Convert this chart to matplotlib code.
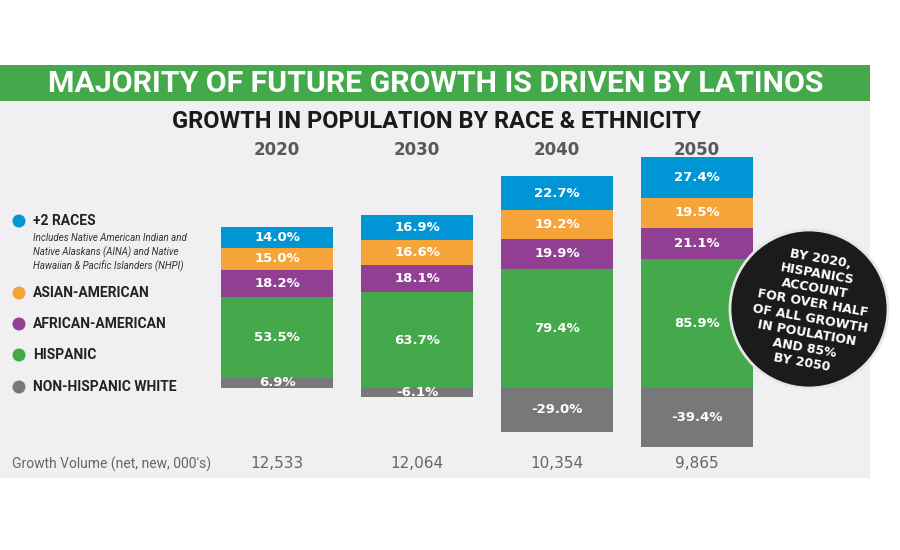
import matplotlib
matplotlib.use("Agg")
import matplotlib.pyplot as plt
from matplotlib.patches import Rectangle, Circle

years = ["2020", "2030", "2040", "2050"]
volumes = ["12,533", "12,064", "10,354", "9,865"]

white_nh = [6.9, -6.1, -29.0, -39.4]
hispanic = [53.5, 63.7, 79.4, 85.9]
african = [18.2, 18.1, 19.9, 21.1]
asian = [15.0, 16.6, 19.2, 19.5]
two_races = [14.0, 16.9, 22.7, 27.4]

legend_labels = ["+2 RACES", "ASIAN-AMERICAN", "AFRICAN-AMERICAN", "HISPANIC", "NON-HISPANIC WHITE"]
note = ("Includes Native American Indian and\n"
        "Native Alaskans (AINA) and Native\n"
        "Hawaiian & Pacific Islanders (NHPI)")
badge = "BY 2020,\nHISPANICS\nACCOUNT\nFOR OVER HALF\nOF ALL GROWTH\nIN POULATION\nAND 85%\nBY 2050"

BLUE = "#0096d6"
ORANGE = "#f5a43a"
PURPLE = "#913f92"
GREEN = "#43a94a"
GRAY = "#78787a"
PANEL = "#f0f0f2"
FONT = ["Roboto", "DejaVu Sans"]

fig = plt.figure(figsize=(9, 5.5), dpi=100)

# background layer in pixel coordinates
bg = fig.add_axes([0, 0, 1, 1], zorder=0)
bg.set_xlim(0, 900)
bg.set_ylim(550, 0)
bg.axis("off")
bg.add_patch(Rectangle((0, 101), 870, 377, color=PANEL, lw=0))
bg.add_patch(Rectangle((0, 65), 870, 36, color=GREEN, lw=0))
bg.text(436, 84, "MAJORITY OF FUTURE GROWTH IS DRIVEN BY LATINOS", color="white",
        fontsize=21.8, fontweight="bold", family=FONT, ha="center", va="center")
bg.text(437, 121, "GROWTH IN POPULATION BY RACE & ETHNICITY", color="#1a1a1a",
        fontsize=17, fontweight="bold", family=FONT, ha="center", va="center")

# legend
leg_y = [221, 293, 324, 355, 387]
leg_c = [BLUE, ORANGE, PURPLE, GREEN, GRAY]
for lab, yy, c in zip(legend_labels, leg_y, leg_c):
    bg.add_patch(Circle((19, yy), 6.5, color=c, lw=0))
    bg.text(33, yy, lab, fontsize=10, fontweight="bold", family=FONT,
            color="#222222", va="center")
bg.text(33, 233, note, fontsize=7, style="italic", family=FONT, color="#333333",
        va="top", linespacing=1.35)

bg.text(12, 464, "Growth Volume (net, new, 000's)", fontsize=10, family=FONT,
        color="#666666", va="center")

# bars
ax = fig.add_axes([207 / 900, 1 - 460 / 550, 560 / 900, 310 / 550], zorder=1)
ax.patch.set_alpha(0)
x = list(range(len(years)))
w = 0.8
ax.bar(x, white_nh, w, color=GRAY)
bottom = [max(v, 0) for v in white_nh]
segs = [(white_nh, GRAY, [0] * 4)]
for vals, c in [(hispanic, GREEN), (african, PURPLE), (asian, ORANGE), (two_races, BLUE)]:
    ax.bar(x, vals, w, bottom=bottom, color=c)
    segs.append((vals, c, list(bottom)))
    bottom = [b + v for b, v in zip(bottom, vals)]
for vals, c, bot in segs:
    for i, v in enumerate(vals):
        ax.text(i, bot[i] + v / 2, f"{v:.1f}%", color="white", fontsize=9.5,
                fontweight="bold", ha="center", va="center")
for i, (yr, vol) in enumerate(zip(years, volumes)):
    ax.text(i, 158.7, yr, color="#58595b", fontsize=12, fontweight="bold",
            ha="center", va="center", clip_on=False)
    ax.text(i, (388 - 464) / 1.5, vol, color="#666666", fontsize=11,
            ha="center", va="center", clip_on=False)
ax.set_xlim(-0.5, 3.5)
ax.set_ylim((388 - 460) / 1.5, (388 - 150) / 1.5)
ax.axis("off")

# badge
top = fig.add_axes([0, 0, 1, 1], zorder=2)
top.set_xlim(0, 900)
top.set_ylim(550, 0)
top.axis("off")
top.add_patch(Circle((809, 309), 79, facecolor="#1c1b1c", edgecolor="#e6e6e6", lw=2))
top.text(811, 311, badge, color="white", fontsize=9, fontweight="bold",
         rotation=-10, ha="center", va="center", multialignment="center",
         linespacing=1.2, rotation_mode="anchor")

fig.savefig("out.png", dpi=100)
